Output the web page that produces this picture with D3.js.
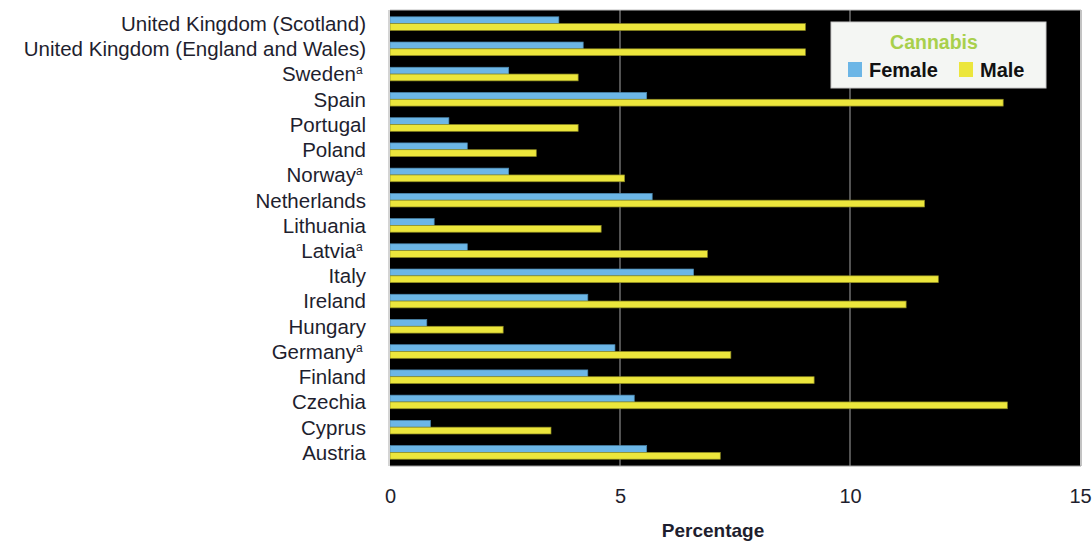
<!DOCTYPE html>
<html><head><meta charset="utf-8">
<script src="https://cdn.jsdelivr.net/npm/d3@7"></script>
<style>body{margin:0;background:#fff}svg{display:block}</style>
</head><body><svg id="c" width="1092" height="541"></svg>
<script>
const categories = ["United Kingdom (Scotland)","United Kingdom (England and Wales)","Sweden","Spain","Portugal","Poland","Norway","Netherlands","Lithuania","Latvia","Italy","Ireland","Hungary","Germany","Finland","Czechia","Cyprus","Austria"];
const footnoted = ["Sweden","Norway","Latvia","Germany"];
const female = [3.67,4.2,2.58,5.58,1.28,1.68,2.58,5.7,0.96,1.68,6.6,4.3,0.8,4.89,4.3,5.31,0.88,5.58];
const male = [9.03,9.03,4.09,13.33,4.09,3.18,5.1,11.62,4.59,6.9,11.92,11.22,2.46,7.41,9.22,13.42,3.5,7.18];
const series = ["Female","Male"];
const xTicks = [0,5,10,15];
const legendTitle = "Cannabis";
const axisTitle = "Percentage";

const colors = {Female:"#6cb6e6", Male:"#ece63c"};
const strokes = {Female:"#4a86ad", Male:"#8d8a22"};
const svg = d3.select("#c");
const L=390, R=1080, T=10, B=466;
const font = "'Liberation Sans', Arial, sans-serif";

const x = d3.scaleLinear().domain([0,15]).range([L,R]);
const y = d3.scaleBand().domain(categories).range([11,465]).paddingInner(0.46).paddingOuter(0.23);
const ys = d3.scaleBand().domain(series).range([0,y.bandwidth()]);

svg.append("rect").attr("x",L).attr("y",T).attr("width",R-L).attr("height",B-T).attr("fill","#000");
svg.append("g").selectAll("line").data(xTicks.filter(d=>d>0&&d<15)).join("line")
  .attr("x1",d=>x(d)).attr("x2",d=>x(d)).attr("y1",T).attr("y2",B)
  .attr("stroke","#8a8a8a").attr("stroke-width",1.2);

const rows = categories.map((c,i)=>({c, Female:female[i], Male:male[i]}));
const g = svg.append("g");
rows.forEach(r=>{
  series.forEach(s=>{
    g.append("rect").attr("x",x(0)).attr("y",y(r.c)+ys(s))
     .attr("width",x(r[s])-x(0)).attr("height",ys.bandwidth())
     .attr("fill",colors[s]).attr("stroke",strokes[s]).attr("stroke-width",0.7);
  });
});
svg.append("line").attr("x1",L-1).attr("x2",L-1).attr("y1",T).attr("y2",B).attr("stroke","#d4d4d4").attr("stroke-width",2);
svg.append("line").attr("x1",R+1).attr("x2",R+1).attr("y1",T).attr("y2",B).attr("stroke","#9a9a9a").attr("stroke-width",1.2);
svg.append("line").attr("x1",L).attr("x2",R+1).attr("y1",T).attr("y2",T).attr("stroke","#bdbdbd").attr("stroke-width",1);
svg.append("line").attr("x1",L).attr("x2",R+1).attr("y1",B).attr("y2",B).attr("stroke","#9a9a9a").attr("stroke-width",1);

const lab = svg.append("g").attr("font-family",font).attr("font-size",20.5).attr("fill","#1e1e2e");
categories.forEach(c=>{
  const t = lab.append("text").attr("x",366).attr("y",y(c)+y.bandwidth()/2).attr("dy","0.36em").attr("text-anchor","end");
  t.append("tspan").text(c);
  if(footnoted.includes(c)){
    t.append("tspan").attr("font-size",12).attr("dy","-0.6em").text("a");
    t.append("tspan").attr("font-size",12).attr("dy","0.6em").text("\u00a0");
  }
});

const ax = svg.append("g").attr("transform",`translate(0,${B})`)
  .call(d3.axisBottom(x).tickValues(xTicks).tickSize(0).tickPadding(23));
ax.select(".domain").remove();
ax.selectAll("text").attr("font-family",font).attr("font-size",20).attr("fill","#1e1e2e");

svg.append("text").attr("x",713).attr("y",537).attr("text-anchor","middle")
  .attr("font-family",font).attr("font-size",19).attr("font-weight","bold").attr("fill","#1e1e2e").text(axisTitle);

const lg = svg.append("g");
lg.append("rect").attr("x",831).attr("y",22).attr("width",215).attr("height",66).attr("fill","#f4f6f3").attr("stroke","#c8c8c8");
lg.append("text").attr("x",934).attr("y",49).attr("text-anchor","middle").attr("font-family",font)
  .attr("font-size",19.5).attr("font-weight","bold").attr("fill","#a8d04c").text(legendTitle);
const lx = {Female:848, Male:959};
series.forEach(s=>{
  lg.append("rect").attr("x",lx[s]).attr("y",62).attr("width",14).attr("height",15).attr("fill",colors[s]);
  lg.append("text").attr("x",lx[s]+21).attr("y",77).attr("font-family",font).attr("font-size",20)
    .attr("font-weight","bold").attr("fill","#111").text(s);
});
</script></body></html>
